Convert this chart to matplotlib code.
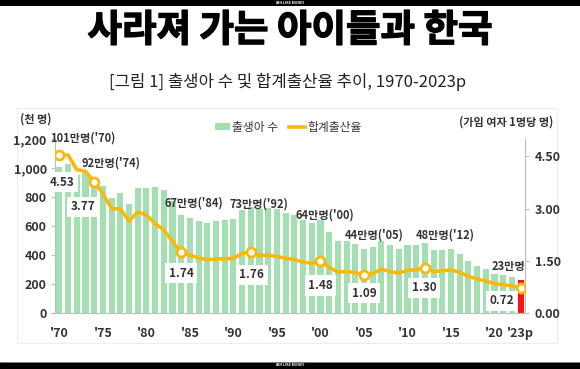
import matplotlib
matplotlib.use('Agg')
import matplotlib.pyplot as plt
import matplotlib.patheffects as pe
from matplotlib.patches import Rectangle, Patch
from matplotlib.lines import Line2D

plt.rcParams['font.family'] = ['Noto Sans CJK KR', 'DejaVu Sans']

# ---------------- data ----------------
years = list(range(1970, 2024))
births = [1006.6, 1024.8, 952.8, 965.5, 922.8, 874.0, 796.3, 825.3, 750.7, 862.7,
          862.8, 867.4, 848.3, 769.2, 674.8, 655.5, 636.0, 623.8, 633.1, 639.4,
          649.7, 709.3, 730.7, 715.8, 721.2, 715.0, 691.2, 675.4, 641.6, 620.7,
          640.1, 559.9, 496.9, 495.0, 477.0, 438.7, 451.8, 496.8, 465.9, 444.8,
          470.2, 471.3, 484.6, 436.5, 435.4, 438.4, 406.2, 357.8, 326.8, 302.7,
          272.3, 260.6, 249.2, 230.0]
tfr = [4.53, 4.54, 4.12, 4.07, 3.77, 3.43, 3.00, 2.99, 2.64, 2.90,
       2.82, 2.57, 2.39, 2.06, 1.74, 1.66, 1.58, 1.53, 1.55, 1.56,
       1.57, 1.71, 1.76, 1.65, 1.66, 1.63, 1.57, 1.54, 1.46, 1.43,
       1.48, 1.31, 1.18, 1.19, 1.16, 1.09, 1.13, 1.26, 1.19, 1.15,
       1.23, 1.24, 1.30, 1.19, 1.21, 1.24, 1.17, 1.05, 0.98, 0.92,
       0.84, 0.81, 0.78, 0.72]

xtick_years = [1970, 1975, 1980, 1985, 1990, 1995, 2000, 2005, 2010, 2015, 2020, 2023]
xtick_labels = ["'70", "'75", "'80", "'85", "'90", "'95", "'00", "'05", "'10", "'15", "'20", "'23p"]
left_ticks = [0, 200, 400, 600, 800, 1000, 1200]
right_ticks = [0.0, 1.5, 3.0, 4.5]

birth_label_years = [1970, 1974, 1984, 1992, 2000, 2005, 2012, 2023]
birth_label_texts = ["101만명('70)", "92만명('74)", "67만명('84)", "73만명('92)",
                     "64만명('00)", "44만명('05)", "48만명('12)", "23만명"]
tfr_label_years = [1970, 1974, 1984, 1992, 2000, 2005, 2012, 2023]

title = "사라져 가는 아이들과 한국"
subtitle = "[그림 1] 출생아 수 및 합계출산율 추이, 1970-2023p"
left_unit = "(천 명)"
right_unit = "(가임 여자 1명당 명)"
legend_labels = ["출생아 수", "합계출산율"]
brand = "ASH LIKE MONEY"

# ---------------- style ----------------
W, H = 580, 369
GREEN = '#A4DFB1'
RED = '#FF1010'
YELLOW = '#F8B80E'
GRAY = '#BDBDBD'
TXT = '#333333'

def fx(px):
    return px / W

def fy(py):
    return 1 - py / H

fig = plt.figure(figsize=(W / 100, H / 100), dpi=100)
fig.patch.set_facecolor('white')

# decorative bands
fig.add_artist(Rectangle((0, fy(6)), 1, 6 / H, transform=fig.transFigure,
                         facecolor='black', edgecolor='none', zorder=0))
fig.add_artist(Rectangle((0, 0), 1, 7 / H, transform=fig.transFigure,
                         facecolor='black', edgecolor='none', zorder=0))
fig.add_artist(Line2D([0, 1], [fy(361.5), fy(361.5)], transform=fig.transFigure,
                      color='#999999', lw=0.6))
fig.text(0.5, fy(3), brand, ha='center', va='center', color='white', fontsize=2.5, fontweight='bold')
fig.text(0.5, fy(365.5), brand, ha='center', va='center', color='white', fontsize=2.5, fontweight='bold')

# faint chart frame
fig.add_artist(Rectangle((fx(17), fy(343)), fx(557) - fx(17), fy(108) - fy(343),
                         transform=fig.transFigure, facecolor='none',
                         edgecolor='#EDEDED', lw=0.8, zorder=0))

# titles
fig.text(0.5, fy(30), title, ha='center', va='center', fontsize=27,
         fontweight='heavy', color='black',
         path_effects=[pe.withStroke(linewidth=1.0, foreground='black')])
fig.text(fx(288), fy(82), subtitle, ha='center', va='center', fontsize=12,
         color='#222222')

# axes
ax = fig.add_axes([fx(55), fy(313), fx(525) - fx(55), fy(139) - fy(313)])
ax2 = ax.twinx()

colors = [GREEN] * (len(years) - 1) + [RED]
bars = ax.bar(years, births, width=0.7, color=colors, edgecolor='none', zorder=2)
ax.set_xlim(1969.5, 2023.5)
ax.set_ylim(0, 1200)
ax.set_yticks(left_ticks)
ax.set_yticklabels([f"{v:,}" for v in left_ticks])
ax.set_xticks(xtick_years)
ax.set_xticklabels(xtick_labels)

ax.spines['top'].set_visible(False)
ax2.spines['top'].set_visible(False)
ax.spines['right'].set_visible(False)
ax.spines['left'].set_color(GRAY)
ax.spines['bottom'].set_color(GRAY)
ax2.spines['left'].set_visible(False)
ax2.spines['bottom'].set_visible(False)
ax2.spines['right'].set_color(GRAY)

ax.tick_params(axis='x', length=0, pad=10, labelsize=9, labelcolor=TXT)
ax.tick_params(axis='y', length=3, width=0.8, color=GRAY, pad=3, labelsize=9, labelcolor=TXT)
for t in ax.get_xticklabels() + ax.get_yticklabels():
    t.set_fontweight('bold')

ax2.set_ylim(0, 5.0)
ax2.set_yticks(right_ticks)
ax2.set_yticklabels([f"{v:.2f}" for v in right_ticks])
ax2.tick_params(axis='y', length=3, width=0.8, color=GRAY, pad=4, labelsize=9, labelcolor=TXT)
for t in ax2.get_yticklabels():
    t.set_fontweight('bold')

line, = ax2.plot(years, tfr, color=YELLOW, lw=2.6, zorder=3, solid_capstyle='round')
mk_idx = [years.index(y) for y in tfr_label_years]
ax2.plot([years[i] for i in mk_idx], [tfr[i] for i in mk_idx], linestyle='none',
         marker='o', markersize=6.5, markerfacecolor='white', markeredgecolor=YELLOW,
         markeredgewidth=2, zorder=4)

# birth labels (offsets in pixels)
birth_offsets = [(23, 29), (17, 16), (13, 12), (8, 3), (4, 5), (10, 14), (20, 8), (-12, 13)]
for yr, txt, off in zip(birth_label_years, birth_label_texts, birth_offsets):
    i = years.index(yr)
    ax.annotate(txt, (yr, births[i]), xytext=off, textcoords='offset pixels',
                ha='center', va='center', fontsize=8, fontweight='bold', color=TXT,
                zorder=5)

# TFR labels
tfr_offsets = [(3, -27), (-11, -25), (0, -21), (1, -23), (0, -24), (0, -18), (-1, -20), (-19, -13)]
for yr, off in zip(tfr_label_years, tfr_offsets):
    i = years.index(yr)
    ax2.annotate(f"{tfr[i]:.2f}", (yr, tfr[i]), xytext=off, textcoords='offset pixels',
                 ha='center', va='center', fontsize=8.5, fontweight='bold', color=TXT,
                 bbox=dict(boxstyle='square,pad=0.3', facecolor='white', edgecolor='none'),
                 zorder=6)

# units
fig.text(fx(36), fy(119), left_unit, ha='center', va='center', fontsize=8, fontweight='bold', color=TXT)
fig.text(fx(506), fy(122), right_unit, ha='center', va='center', fontsize=8, fontweight='bold', color=TXT)

# legend
handles = [Patch(facecolor=GREEN, edgecolor='none'), Line2D([], [], color=YELLOW, lw=2.6)]
fig.legend(handles, legend_labels, loc='center', bbox_to_anchor=(fx(288), fy(127)),
           ncol=2, frameon=False, fontsize=8.5, handlelength=1.3, handleheight=0.6,
           handletextpad=0.2, columnspacing=0.9, labelcolor=TXT)

fig.savefig('out.png', dpi=100, facecolor='white')
